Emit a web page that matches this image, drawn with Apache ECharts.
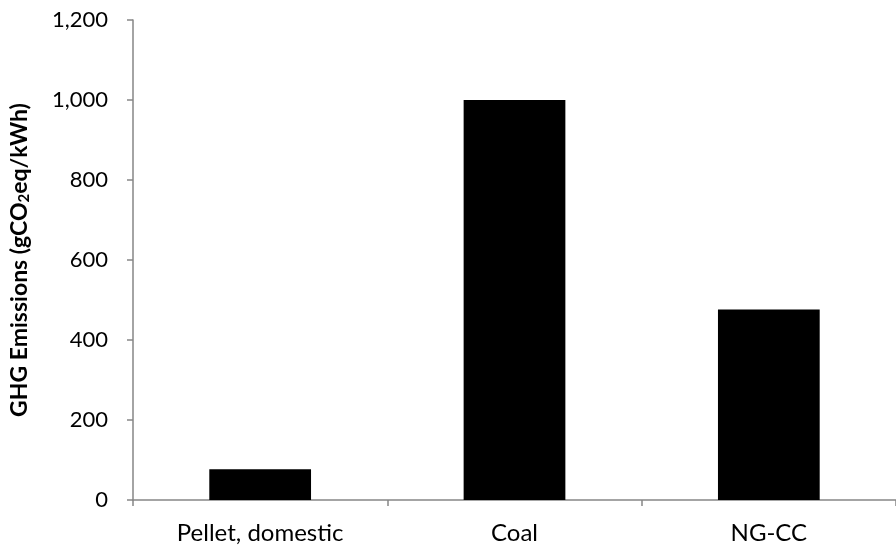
<!DOCTYPE html>
<html><head><meta charset="utf-8">
<script src="https://cdn.jsdelivr.net/npm/echarts@6/dist/echarts.min.js"></script>
<style>html,body{margin:0;padding:0;background:#fff}#c{width:896px;height:552px}</style>
</head><body><div id="c"></div>
<script>
const categories = ['Pellet, domestic', 'Coal', 'NG-CC'];
const emissions = [77, 1000, 476];
const yTicks = [0, 200, 400, 600, 800, 1000, 1200];

const chart = echarts.init(document.getElementById('c'));
const font = 'Lato, "Open Sans", sans-serif';
chart.setOption({
  animation: false,
  grid: { left: 132, right: -8, top: 20, bottom: 52 },
  xAxis: {
    type: 'category', data: categories,
    axisLine: { lineStyle: { color: '#868686', width: 1.5 } },
    axisTick: { show: true, length: 6, lineStyle: { color: '#868686', width: 1.5 } },
    axisLabel: { color: '#000', fontSize: 24, fontFamily: font, margin: 21 }
  },
  yAxis: {
    type: 'value', min: yTicks[0], max: yTicks[yTicks.length - 1], interval: 200,
    name: 'GHG Emissions (gCO{sub|2}eq/kWh)',
    nameLocation: 'middle', nameGap: 101, nameRotate: 90,
    nameTextStyle: { color: '#000', fontSize: 23, fontWeight: 'bold', fontFamily: font,
      rich: { sub: { fontSize: 15, fontWeight: 'bold', fontFamily: font, verticalAlign: 'bottom', padding: [10, 0, 0, 0] } } },
    axisLine: { show: true, lineStyle: { color: '#868686', width: 1.5 } },
    axisTick: { show: true, length: 6, lineStyle: { color: '#868686', width: 1.5 } },
    splitLine: { show: false },
    axisLabel: { color: '#000', fontSize: 22, fontFamily: font, margin: 25,
      formatter: v => v.toLocaleString('en-US') }
  },
  series: [{
    type: 'bar', data: emissions, barWidth: '40%',
    itemStyle: { color: '#000' }
  }]
});
</script></body></html>
